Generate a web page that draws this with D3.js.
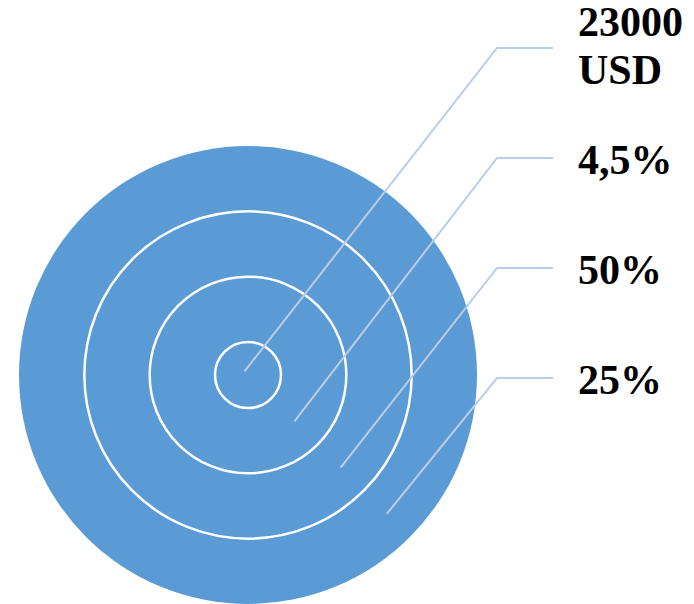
<!DOCTYPE html>
<html>
<head>
<meta charset="utf-8">
<script src="https://cdn.jsdelivr.net/npm/d3@7"></script>
<style>
html,body{margin:0;padding:0;background:#fff;}
svg{display:block;}
</style>
</head>
<body>
<svg id="chart" width="694" height="604"></svg>
<script>
// Rings from innermost to outermost
const rings = [0, 1, 2, 3];
const labels = [["23000", "USD"], ["4,5%"], ["50%"], ["25%"]];

const svg = d3.select("#chart");
const cx = 248, cy = 375;

const rScale = d3.scaleLinear().domain([0, 3]).range([33, 229]);
const yScale = d3.scalePoint().domain(rings).range([48, 378]);

const g = svg.append("g").attr("transform", `translate(${cx},${cy})`);

// Outer filled disc
g.append("circle")
  .attr("r", rScale(3))
  .attr("fill", "#5B9BD5");

// Inner ring boundaries
g.selectAll("circle.ring")
  .data(rings.slice(0, 3))
  .join("circle")
  .attr("class", "ring")
  .attr("r", d => rScale(d))
  .attr("fill", "none")
  .attr("stroke", "#ffffff")
  .attr("stroke-width", 2.5);

// Leader lines
const ang = Math.PI / 4;
function anchor(i) {
  const rm = i === 0 ? -5 : (rScale(i - 1) + rScale(i)) / 2;
  return [cx + rm * Math.cos(ang), cy + rm * Math.sin(ang)];
}
const bendX = 497, endX = 553, textX = 578;

svg.selectAll("polyline.leader")
  .data(rings)
  .join("polyline")
  .attr("class", "leader")
  .attr("points", i => {
    const a = anchor(i);
    const y = yScale(i);
    return [a, [bendX, y], [endX, y]].map(p => p.join(",")).join(" ");
  })
  .attr("fill", "none")
  .attr("stroke", "#B9CDE8")
  .attr("stroke-width", 2);

// Labels
const lineH = 48;
const tg = svg.selectAll("text.lbl")
  .data(rings)
  .join("text")
  .attr("class", "lbl")
  .attr("font-family", "'Liberation Serif','Times New Roman',serif")
  .attr("font-weight", "bold")
  .attr("font-size", 42)
  .attr("fill", "#000");

tg.each(function(i) {
  const lines = labels[i];
  const y0 = yScale(i) + 14 - (lines.length - 1) * lineH / 2 - (lines.length > 1 ? 2 : -2);
  d3.select(this).selectAll("tspan")
    .data(lines)
    .join("tspan")
    .attr("x", textX)
    .attr("y", (d, k) => y0 + k * lineH)
    .text(d => d);
});
</script>
</body>
</html>
